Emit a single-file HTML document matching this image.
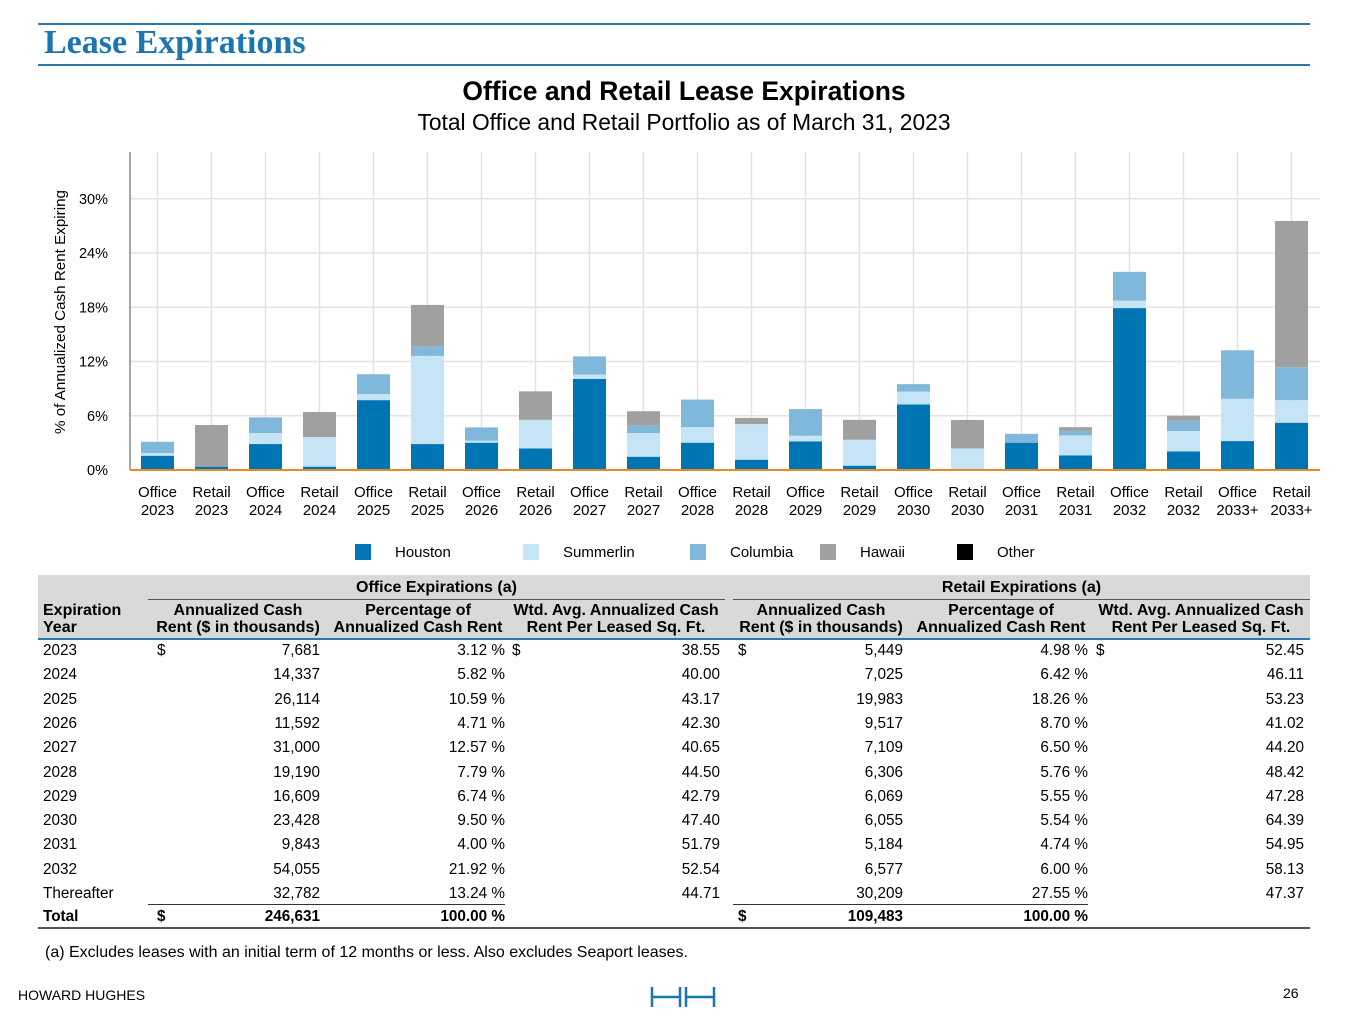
<!DOCTYPE html>
<html><head><meta charset="utf-8">
<style>
body{margin:0;width:1365px;height:1024px;background:#fff;font-family:"Liberation Sans",Arial,sans-serif;color:#000;position:relative;overflow:hidden}
.abs{position:absolute;white-space:nowrap}
.t{position:absolute;white-space:nowrap;font-size:15.3px;line-height:17px}
.h{font-size:16px}
.r{text-align:right}
.c{text-align:center}
.b{font-weight:bold}
</style></head><body>
<div class="abs" style="left:38px;top:23px;width:1272px;height:2px;background:#2a7ab0"></div>
<div class="abs" style="left:44px;top:23px;font-family:'Liberation Serif',serif;font-weight:bold;font-size:34px;color:#1a75b0;line-height:40px">Lease Expirations</div>
<div class="abs" style="left:38px;top:64px;width:1272px;height:2px;background:#2a7ab0"></div>
<div class="abs c b" style="left:0;width:1368px;top:76px;font-size:26.5px">Office and Retail Lease Expirations</div>
<div class="abs c" style="left:0;width:1368px;top:109px;font-size:22.8px">Total Office and Retail Portfolio as of March 31, 2023</div>

<svg id="chart" width="1365" height="570" style="position:absolute;left:0;top:0" font-family="Liberation Sans, Arial, sans-serif"></svg>

<div id="tbl"></div>

<div class="abs" style="left:45px;top:944px;font-size:16px">(a) Excludes leases with an initial term of 12 months or less. Also excludes Seaport leases.</div>
<div class="abs" style="left:18px;top:987px;font-size:14px">HOWARD HUGHES</div>
<svg class="abs" style="left:650px;top:985px" width="66" height="24"><g stroke="#1a75b0" stroke-width="2.5" fill="none"><path d="M2 2V22M30 2V22M2 12H30M36 2V22M64 2V22M36 12H64"/></g></svg>
<div class="abs" style="left:1283px;top:985px;font-size:14px">26</div>

<script>
const categories=["Office 2023","Retail 2023","Office 2024","Retail 2024","Office 2025","Retail 2025","Office 2026","Retail 2026","Office 2027","Retail 2027","Office 2028","Retail 2028","Office 2029","Retail 2029","Office 2030","Retail 2030","Office 2031","Retail 2031","Office 2032","Retail 2032","Office 2033+","Retail 2033+"];
const houston=[1.58,0.37,2.87,0.37,7.73,2.87,3.02,2.39,10.08,1.47,3.02,1.14,3.17,0.48,7.25,0,3.02,1.62,17.91,2.06,3.2,5.23];
const summerlin=[0.29,0,1.21,3.27,0.66,9.75,0.22,3.16,0.48,2.61,1.73,3.94,0.62,2.87,1.43,2.39,0,2.21,0.82,2.25,4.68,2.5];
const columbia=[1.25,0,1.74,0,2.2,1.06,1.47,0,2.01,0.82,3.04,0,2.95,0,0.82,0,0.98,0.54,3.19,1.13,5.36,3.64];
const hawaii=[0,4.61,0,2.78,0,4.58,0,3.15,0,1.6,0,0.68,0,2.2,0,3.15,0,0.37,0,0.56,0,16.18];
const other=[0,0,0,0,0,0,0,0,0,0,0,0,0,0,0,0,0,0,0,0,0,0];
const yTicks=[0,6,12,18,24,30];
const seriesNames=["Houston","Summerlin","Columbia","Hawaii","Other"];

const NS="http://www.w3.org/2000/svg";
const svg=document.getElementById('chart');
const x0=130,x1=1320,yTop=152,yBase=470,pxPerPct=9.04;
const band=54,firstC=157.5,barW=33;
const xC=i=>firstC+i*band;
const y=v=>yBase-v*pxPerPct;
function mk(tag,attrs){const e=document.createElementNS(NS,tag);for(const k in attrs)e.setAttribute(k,attrs[k]);svg.appendChild(e);return e;}
yTicks.forEach(t=>{
  const g=mk('line',{x1:x0,x2:x1,y1:y(t),y2:y(t),stroke:'#e3e3e3','stroke-width':1.5});
  
  
  const l=mk('text',{x:108,y:y(t)+5,'text-anchor':'end','font-size':14.5});
  l.textContent=t+'%';
  
  
});
categories.forEach((c,i)=>{
  const g=mk('line',{x1:xC(i),x2:xC(i),y1:yTop,y2:yBase,stroke:'#e3e3e3','stroke-width':1.5});
  
  
});
const colors=['#0075b4','#c5e5f6','#7fb8da','#a0a0a0','#000000'];
const series=[houston,summerlin,columbia,hawaii,other];
categories.forEach((c,i)=>{
  let cum=0;
  series.forEach((s,k)=>{
    const v=s[i];if(!v)return;
    const r=mk('rect',{x:xC(i)-barW/2,y:y(cum+v),width:barW,height:v*pxPerPct,fill:colors[k]});
    
    
    cum+=v;
  });
  const parts=c.split(' ');
  parts.forEach((p,j)=>{
    const t=mk('text',{x:xC(i),y:497+j*18,'text-anchor':'middle','font-size':15});
    t.textContent=p;
    
    
  });
});
const ax=mk('line',{x1:x0,x2:x0,y1:yTop,y2:yBase,stroke:'#888','stroke-width':1.5});


const bl=mk('line',{x1:x0,x2:x1,y1:yBase,y2:yBase,stroke:'#e8892a','stroke-width':2});


const yt=mk('text',{x:0,y:0,'text-anchor':'middle','font-size':15.2,transform:'translate(65,312) rotate(-90)'});
yt.textContent='% of Annualized Cash Rent Expiring';


const legX=[355,523,690,820,957];
seriesNames.forEach((n,k)=>{
  const r=mk('rect',{x:legX[k],y:544,width:16,height:16,fill:colors[k]});
  
  
  const t=mk('text',{x:legX[k]+40,y:557,'font-size':15});
  t.textContent=n;
  
  
});

// table
const years=["2023","2024","2025","2026","2027","2028","2029","2030","2031","2032","Thereafter"];
const offRent=["7,681","14,337","26,114","11,592","31,000","19,190","16,609","23,428","9,843","54,055","32,782"];
const offPct=["3.12","5.82","10.59","4.71","12.57","7.79","6.74","9.50","4.00","21.92","13.24"];
const offWtd=["38.55","40.00","43.17","42.30","40.65","44.50","42.79","47.40","51.79","52.54","44.71"];
const retRent=["5,449","7,025","19,983","9,517","7,109","6,306","6,069","6,055","5,184","6,577","30,209"];
const retPct=["4.98","6.42","18.26","8.70","6.50","5.76","5.55","5.54","4.74","6.00","27.55"];
const retWtd=["52.45","46.11","53.23","41.02","44.20","48.42","47.28","64.39","54.95","58.13","47.37"];
let h='';
const box=(l,t,w,hh,bg,name)=>`<div class="abs" style="left:${l}px;top:${t}px;width:${w}px;height:${hh}px;background:${bg}"></div>`;
const tx=(txt,l,t,cls,name,w)=>`<div class="t ${cls}" style="left:${l}px;top:${t}px;${w?'width:'+w+'px;':''}">${txt}</div>`;
h+=box(38,575,1272,63,'#d9d9d9','table-header-bg');
h+=box(148,599,577,1,'#555','office-group-rule');
h+=box(733,599,577,1,'#555','retail-group-rule');
h+=box(38,638,1272,2,'#2a7ab0','header-rule');
h+=tx('Office Expirations (a)',148,579,'c b h','office-group-header',577);
h+=tx('Retail Expirations (a)',733,579,'c b h','retail-group-header',577);
h+=tx('Expiration<br>Year',43,602,'b h','col-expiration-year');
h+=tx('Annualized Cash<br>Rent ($ in thousands)',146,602,'c b h','col-office-rent',184);
h+=tx('Percentage of<br>Annualized Cash Rent',326,602,'c b h','col-office-pct',184);
h+=tx('Wtd. Avg. Annualized Cash<br>Rent Per Leased Sq. Ft.',505,602,'c b h','col-office-wtd',222);
h+=tx('Annualized Cash<br>Rent ($ in thousands)',729,602,'c b h','col-retail-rent',184);
h+=tx('Percentage of<br>Annualized Cash Rent',909,602,'c b h','col-retail-pct',184);
h+=tx('Wtd. Avg. Annualized Cash<br>Rent Per Leased Sq. Ft.',1090,602,'c b h','col-retail-wtd',222);
years.forEach((yr,i)=>{
  const t=642+i*24.3;
  h+=tx(yr,43,t,'','row-year');
  if(i===0){h+=tx('$',157,t,'','dollar');h+=tx('$',512,t,'','dollar');h+=tx('$',738,t,'','dollar');h+=tx('$',1096,t,'','dollar');}
  h+=tx(offRent[i],220,t,'r','office-rent',100);
  h+=tx(offPct[i]+' %',405,t,'r','office-pct',100);
  h+=tx(offWtd[i],620,t,'r','office-wtd',100);
  h+=tx(retRent[i],803,t,'r','retail-rent',100);
  h+=tx(retPct[i]+' %',988,t,'r','retail-pct',100);
  h+=tx(retWtd[i],1204,t,'r','retail-wtd',100);
});
h+=box(148,904,357,1,'#333','office-subtotal-rule');
h+=box(733,904,355,1,'#333','retail-subtotal-rule');
const tt=908;
h+=tx('Total',43,tt,'b','total-label');
h+=tx('$',157,tt,'b','dollar');
h+=tx('246,631',220,tt,'r b','office-total-rent',100);
h+=tx('100.00 %',405,tt,'r b','office-total-pct',100);
h+=tx('$',738,tt,'b','dollar');
h+=tx('109,483',803,tt,'r b','retail-total-rent',100);
h+=tx('100.00 %',988,tt,'r b','retail-total-pct',100);
h+=box(38,927,1272,2,'#555','table-bottom-rule');
document.getElementById('tbl').innerHTML=h;
</script>
</body></html>
